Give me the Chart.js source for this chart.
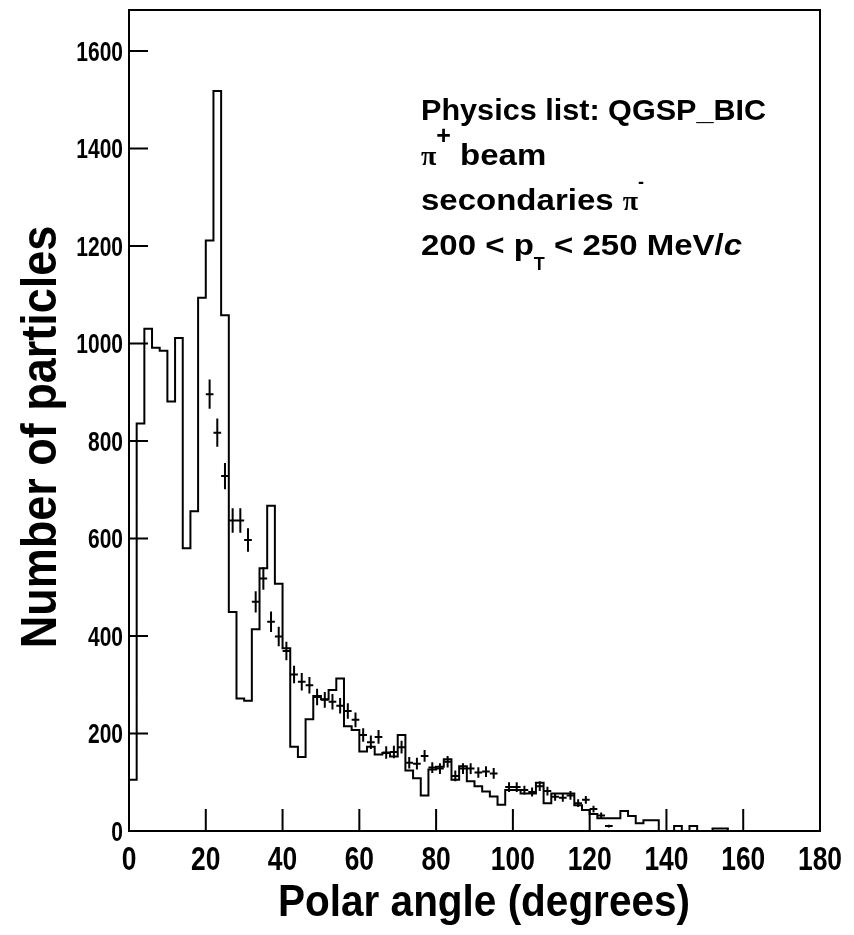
<!DOCTYPE html>
<html>
<head>
<meta charset="utf-8">
<title>Polar angle of secondary pions</title>
<script src="https://cdn.jsdelivr.net/npm/chart.js@4/dist/chart.umd.min.js"></script>
<style>
  html, body { margin: 0; padding: 0; background: #fff; }
  #wrap { width: 854px; height: 935px; }
</style>
</head>
<body>
<div id="wrap"><canvas id="angle-chart"></canvas></div>
<script>
// simulated spectrum, 2 degree bins from 0 to 180
const binWidth = 2;
const simCounts = [
  105, 836, 1030, 991, 985, 881, 1011, 580, 656, 1094,
  1211, 1518, 1058, 449, 272, 267, 414, 539, 667, 507,
  375, 173, 152, 229, 277, 270, 289, 313, 215, 207,
  163, 173, 157, 160, 153, 197, 124, 108, 73, 126,
  132, 147, 105, 133, 102, 92, 81, 71, 54, 84,
  84, 77, 77, 99, 57, 77, 77, 77, 53, 43,
  35, 26, 26, 26, 41, 31, 16, 22, 22, 0,
  0, 10, 0, 10, 0, 0, 5, 5, 0, 0,
  0, 0, 0, 0, 0, 0, 0, 0, 0, 0
];

// measured points (bin centres) with their errors
const dataAngles = [
  21, 23, 25, 27, 29, 31, 33, 35, 37, 39,
  41, 43, 45, 47, 49, 51, 53, 55, 57, 59,
  61, 63, 65, 67, 69, 71, 73, 75, 77, 79,
  81, 83, 85, 87, 89, 91, 93, 95,
  99, 101, 103, 105, 107, 109, 111, 113, 115, 117,
  119, 121, 123, 125
];
const dataCounts = [
  896, 817, 728, 637, 637, 597, 470, 518, 429, 399,
  369, 321, 306, 299, 275, 269, 265, 257, 246, 228,
  197, 182, 193, 161, 162, 172, 140, 138, 154, 130,
  128, 142, 113, 128, 128, 120, 122, 118,
  90, 90, 84, 80, 92, 82, 70, 68, 73, 57,
  64, 45, 32, 10
];
const dataErrors = [
  30, 29, 27, 25, 25, 24, 22, 23, 21, 20,
  19, 18, 18, 17, 17, 16, 16, 16, 16, 15,
  14, 14, 14, 13, 13, 13, 12, 12, 12, 11,
  11, 12, 11, 11, 11, 11, 11, 11,
  10, 10, 9, 9, 10, 9, 8, 8, 9, 8,
  8, 7, 6, 3
];

const xTicks = [0, 20, 40, 60, 80, 100, 120, 140, 160, 180];
const yTicks = [0, 200, 400, 600, 800, 1000, 1200, 1400, 1600];

// outline of the histogram: left edge of every bin, closed at 180
const histPoints = [{ x: 0, y: 0 }];
simCounts.forEach((c, i) => histPoints.push({ x: i * binWidth, y: c }));
histPoints.push({ x: simCounts.length * binWidth, y: 0 });

const SANS = '"Liberation Sans", Arial, sans-serif';
const SERIF = '"Liberation Serif", "Times New Roman", serif';

// pieces of one text line, each with its own font, shift and width factor
function drawRuns(ctx, x, y, runs) {
  runs.forEach(r => {
    const sx = r.sx || 1;
    ctx.font = r.font;
    ctx.save();
    ctx.translate(x, y + (r.dy || 0));
    ctx.scale(sx, 1);
    ctx.fillText(r.text, 0, 0);
    ctx.restore();
    x += ctx.measureText(r.text).width * sx;
  });
}

// labels and titles use a condensed bold face
function squeezedText(ctx, text, x, y, angle, squeeze) {
  ctx.save();
  ctx.translate(x, y);
  ctx.rotate(angle);
  ctx.scale(squeeze, 1);
  ctx.fillText(text, 0, 0);
  ctx.restore();
}

const frameAndLabels = {
  id: 'frameAndLabels',
  afterDatasetsDraw(chart) {
    const { ctx, scales: { x, y } } = chart;
    ctx.save();
    ctx.strokeStyle = '#000';
    ctx.lineWidth = 2;
    ctx.beginPath();
    dataAngles.forEach((a, i) => {
      const px = x.getPixelForValue(a);
      const py = y.getPixelForValue(dataCounts[i]);
      ctx.moveTo(x.getPixelForValue(a - binWidth / 2), py);
      ctx.lineTo(x.getPixelForValue(a + binWidth / 2), py);
      ctx.moveTo(px, y.getPixelForValue(dataCounts[i] - dataErrors[i]));
      ctx.lineTo(px, y.getPixelForValue(dataCounts[i] + dataErrors[i]));
    });
    ctx.stroke();
    ctx.restore();
  },
  afterDraw(chart) {
    const { ctx, chartArea: a, scales: { x, y } } = chart;
    ctx.save();
    ctx.strokeStyle = '#000';
    ctx.lineWidth = 2;
    ctx.strokeRect(a.left, a.top, a.right - a.left, a.bottom - a.top);

    // tick marks point into the plot
    ctx.beginPath();
    xTicks.forEach(v => {
      const px = x.getPixelForValue(v);
      ctx.moveTo(px, a.bottom);
      ctx.lineTo(px, a.bottom - 22);
    });
    yTicks.forEach(v => {
      const py = y.getPixelForValue(v);
      ctx.moveTo(a.left, py);
      ctx.lineTo(a.left + 19, py);
    });
    ctx.stroke();

    ctx.fillStyle = '#000';
    ctx.textBaseline = 'alphabetic';

    // tick labels
    ctx.font = 'bold 33px ' + SANS;
    ctx.textAlign = 'center';
    xTicks.forEach(v => squeezedText(ctx, String(v), x.getPixelForValue(v), a.bottom + 39, 0, 0.8));
    ctx.font = 'bold 28px ' + SANS;
    ctx.textAlign = 'right';
    yTicks.forEach(v => squeezedText(ctx, String(v), a.left - 6, y.getPixelForValue(v) + 10, 0, 0.75));

    // axis titles
    ctx.textAlign = 'center';
    ctx.font = 'bold 45px ' + SANS;
    squeezedText(ctx, 'Polar angle (degrees)', 484, 916, 0, 0.9);
    ctx.font = 'bold 50px ' + SANS;
    squeezedText(ctx, 'Number of particles', 56, 437, -Math.PI / 2, 0.9);

    // run description
    ctx.textAlign = 'left';
    const F = 'bold 30px ' + SANS;
    const PI = 'bold 28px ' + SERIF;
    const SUP = 'bold 25px ' + SANS;
    const SUB = 'bold 18px ' + SANS;
    drawRuns(ctx, 421, 120, [{ text: 'Physics list: QGSP_BIC', font: F, sx: 1.02 }]);
    drawRuns(ctx, 421, 165, [
      { text: 'π', font: PI },
      { text: '+', font: SUP, dy: -21 },
      { text: ' beam', font: F, sx: 1.1 }
    ]);
    drawRuns(ctx, 421, 210, [
      { text: 'secondaries ', font: F, sx: 1.1 },
      { text: 'π', font: PI },
      { text: '-', font: SUB, dy: -22 }
    ]);
    drawRuns(ctx, 421, 255, [
      { text: '200 < p', font: F, sx: 1.1 },
      { text: 'T', font: SUB, dy: 15 },
      { text: ' < 250 MeV/', font: F, sx: 1.1 },
      { text: 'c', font: 'italic bold 30px ' + SANS, sx: 1.1 }
    ]);
    ctx.restore();
  }
};

new Chart(document.getElementById('angle-chart'), {
  type: 'line',
  data: {
    datasets: [{
      label: 'QGSP_BIC',
      data: histPoints,
      stepped: 'before',
      borderColor: '#000',
      borderWidth: 2,
      pointRadius: 0,
      fill: false,
      tension: 0
    }]
  },
  options: {
    responsive: true,
    maintainAspectRatio: false,
    animation: false,
    layout: { padding: { top: 10, right: 34, left: 0, bottom: 0 } },
    plugins: {
      legend: { display: false },
      tooltip: { enabled: false }
    },
    scales: {
      x: {
        type: 'linear',
        min: 0,
        max: 180,
        afterBuildTicks: s => { s.ticks = xTicks.map(v => ({ value: v })); },
        afterFit: s => { s.height = 104; },
        grid: { drawOnChartArea: false, drawTicks: false },
        border: { display: true, color: '#000', width: 2 },
        ticks: { display: false }
      },
      y: {
        min: 0,
        max: 1684,
        afterBuildTicks: s => { s.ticks = yTicks.map(v => ({ value: v })); },
        afterFit: s => { s.width = 129; },
        grid: { drawOnChartArea: false, drawTicks: false },
        border: { display: true, color: '#000', width: 2 },
        ticks: { display: false }
      }
    }
  },
  plugins: [frameAndLabels]
});
</script>
</body>
</html>
